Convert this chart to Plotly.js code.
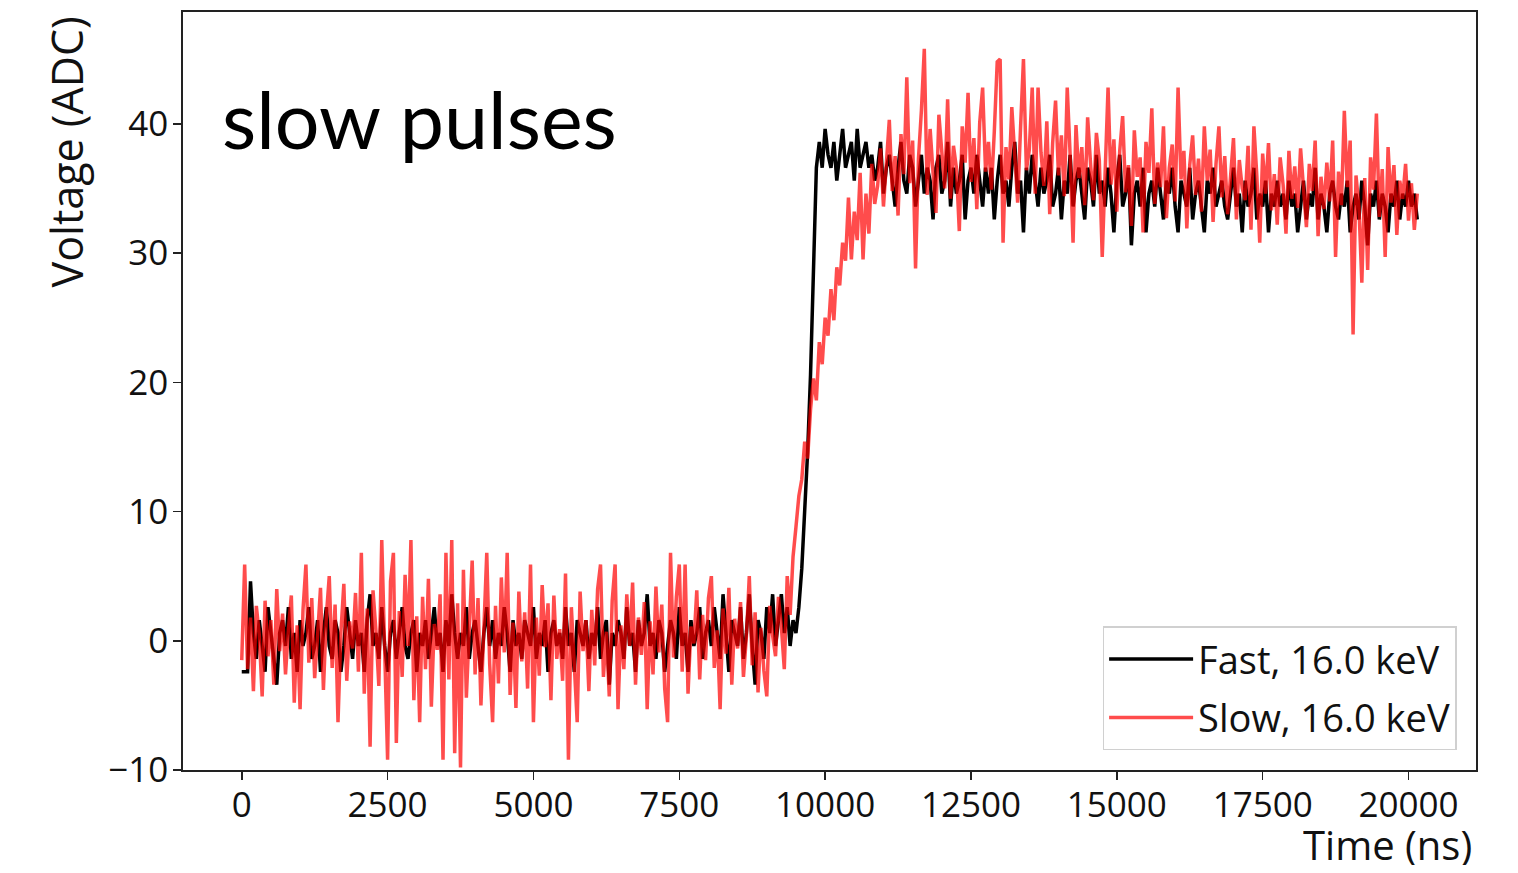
<!DOCTYPE html>
<html>
<head>
<meta charset="utf-8">
<script src="https://cdn.plot.ly/plotly-3.0.1.min.js"></script>
<style>
html,body{margin:0;padding:0;background:#fff;}
#chart{width:1518px;height:873px;}
</style>
</head>
<body>
<div id="chart"></div>
<script>
// Sampling of both traces (ns)
const sampleStart = 0;
const sampleStep = 50;

// Fast pulse, 16.0 keV (ADC), one value per 50 ns sample
const fastVoltage = [
  -2.4,-2.4,-2.4,4.6,0.6,-1.4,1.6,-0.4,-2.4,2.6,0.6,-1.4,-3.4,0.6,1.6,-0.4,2.6,-1.4,0.6,-2.4,
  1.6,-0.4,0.6,2.6,-1.4,-0.4,1.6,-2.4,0.6,2.6,-0.4,-1.4,1.6,0.6,-2.4,-0.4,2.6,0.6,-1.4,1.6,
  -0.4,0.6,-2.4,1.6,3.6,-0.4,0.6,-1.4,2.6,-0.4,-2.4,0.6,1.6,-1.4,0.6,2.6,-0.4,-1.4,0.6,1.6,
  -2.4,0.6,-0.4,1.6,-1.4,0.6,2.6,-0.4,0.6,-2.4,1.6,-0.4,3.6,0.6,-1.4,0.6,-0.4,2.6,-1.4,0.6,
  1.6,-0.4,-2.4,0.6,2.6,-0.4,1.6,-1.4,0.6,-0.4,2.6,0.6,-2.4,1.6,-0.4,0.6,-1.4,1.6,0.6,-0.4,
  2.6,-1.4,0.6,-0.4,1.6,-2.4,0.6,1.6,-0.4,0.6,-1.4,2.6,-0.4,0.6,-2.4,1.6,0.6,-0.4,1.6,-1.4,
  0.6,-0.4,2.6,-1.4,0.6,1.6,-3.4,0.6,-0.4,1.6,0.6,-1.4,2.6,-0.4,0.6,-2.4,1.6,-0.4,0.6,3.6,
  -0.4,0.6,-1.4,1.6,0.6,-2.4,-0.4,1.6,0.6,-1.4,2.6,-0.4,0.6,-2.4,1.6,-0.4,0.6,2.6,-1.4,0.6,
  1.6,-0.4,2.6,0.6,-1.4,3.6,0.6,-2.4,1.6,0.6,-0.4,2.6,-1.4,0.6,3.6,-0.4,-3.4,1.6,0.6,-1.4,
  2.6,0.6,3.6,-0.4,1.6,3.6,0.6,2.6,-0.4,1.6,
  0.6,2.6,5.6,9.6,14.6,20.6,28.6,36.6,38.6,
  36.6,39.6,37.6,36.6,38.6,35.6,37.6,39.6,36.6,37.6,38.6,35.6,39.6,36.6,37.6,38.6,36.6,
  37.6,35.6,36.6,38.6,34.6,36.6,37.6,35.6,33.6,36.6,38.6,35.6,34.6,37.6,36.6,33.6,35.6,37.6,34.6,36.6,
  35.6,32.6,36.6,37.6,34.6,35.6,38.6,33.6,36.6,34.6,35.6,37.6,32.6,35.6,36.6,34.6,37.6,35.6,33.6,36.6,
  34.6,36.6,32.6,35.6,37.6,34.6,35.6,33.6,36.6,38.6,34.6,35.6,31.6,36.6,34.6,37.6,35.6,33.6,36.6,34.6,
  35.6,37.6,33.6,34.6,36.6,32.6,35.6,34.6,37.6,33.6,35.6,36.6,34.6,32.6,36.6,35.6,33.6,37.6,34.6,35.6,
  33.6,36.6,34.6,31.6,35.6,37.6,33.6,34.6,36.6,30.6,34.6,35.6,33.6,36.6,31.6,34.6,35.6,33.6,36.6,34.6,
  32.6,35.6,34.6,36.6,33.6,31.6,35.6,34.6,33.6,36.6,32.6,34.6,35.6,33.6,31.6,35.6,34.6,36.6,33.6,34.6,
  35.6,33.6,32.6,34.6,36.6,33.6,34.6,31.6,35.6,33.6,34.6,36.6,32.6,34.6,33.6,35.6,31.6,34.6,33.6,35.6,
  33.6,34.6,32.6,35.6,33.6,34.6,31.6,33.6,35.6,32.6,34.6,33.6,36.6,32.6,34.6,33.6,31.6,34.6,35.6,33.6,
  32.6,34.6,33.6,35.6,31.6,33.6,34.6,32.6,35.6,33.6,30.6,34.6,33.6,35.6,32.6,34.6,33.6,31.6,34.6,33.6,
  35.6,32.6,34.6,33.6,35.6,33.6,34.6,32.6
];

// Slow pulse, 16.0 keV (ADC), one value per 50 ns sample
const slowVoltage = [
  -1.5,5.9,-2.2,1.8,-3.9,2.7,0.5,-4.3,3.1,-1.2,1.6,-3.4,4.0,-0.8,2.1,-2.6,0.9,3.5,-4.8,1.2,
  -5.3,2.4,5.9,-1.7,3.3,-2.9,0.4,4.1,-3.8,1.9,5.0,-2.1,2.8,-6.3,0.7,4.4,-3.1,1.5,-0.6,3.7,
  -2.4,6.8,-4.1,2.5,-8.2,3.9,0.8,-3.5,7.8,-1.1,-9.2,4.6,6.8,-7.9,2.3,-2.8,5.1,-0.4,7.8,-4.6,
  1.9,-6.3,3.4,-2.2,4.8,-5.1,1.3,-0.7,3.6,-9.2,6.8,-3.0,7.8,-8.7,2.9,-9.8,5.5,-4.4,1.7,6.2,
  -2.6,3.3,-5.0,0.6,6.8,-1.8,-6.3,2.7,-3.3,4.9,-0.9,6.8,-4.2,1.4,-5.2,3.8,-1.6,2.2,-3.7,5.9,
  -6.3,1.8,-2.7,4.3,-0.5,2.9,-4.6,3.5,-1.4,0.9,-3.1,5.2,-9.2,2.6,-2.0,-6.3,3.8,-0.8,1.6,-3.9,
  2.4,-1.9,4.0,5.9,-2.8,0.7,-4.3,3.1,5.9,-5.3,1.2,-2.2,3.6,-0.4,4.5,-3.4,1.8,-1.1,3.0,-5.3,
  1.5,-2.6,4.2,-0.9,2.8,-3.7,-6.3,6.8,-1.3,3.4,5.9,-2.4,5.9,-4.1,1.1,-0.2,3.9,-3.0,2.0,-1.5,
  3.3,5.0,-2.1,0.8,-5.3,2.5,-1.0,4.1,-3.4,1.7,-0.6,3.0,-2.8,0.3,5.0,-1.9,2.2,-4.0,1.0,-2.3,
  -4.3,2.7,0.4,-1.2,3.4,1.1,-2.2,5.0,2.0,
  6.5,8.8,11.2,12.5,15.4,14.1,17.9,20.3,18.6,23.1,21.4,25.0,23.6,27.2,24.8,28.9,27.5,30.8,29.4,34.3,
  29.5,33.2,31.0,36.2,29.5,34.6,31.5,36.9,33.8,
  35.2,38.1,33.6,36.9,40.3,34.8,37.5,32.9,39.2,36.1,43.6,35.4,38.7,28.8,37.3,41.0,45.8,34.5,39.6,36.2,
  33.1,40.7,37.4,35.0,41.9,34.2,38.3,36.6,31.7,39.8,37.0,42.4,35.5,38.9,33.4,40.1,42.8,36.3,38.6,34.9,
  39.4,44.8,45.0,30.8,38.2,35.7,41.3,37.1,33.9,39.7,45.0,36.4,38.0,42.8,34.6,42.8,37.8,35.2,40.2,33.0,
  38.5,41.8,36.0,39.1,34.4,42.8,37.6,30.8,39.9,35.8,38.2,33.7,40.5,36.9,34.1,39.3,37.2,29.7,36.5,42.8,
  35.3,38.8,33.2,37.9,40.6,34.7,36.8,32.1,39.5,35.9,37.4,31.6,38.6,36.2,41.2,33.8,37.0,35.1,39.8,32.7,
  36.6,38.4,34.0,42.8,35.7,37.9,31.9,36.8,39.1,34.5,37.3,33.2,39.8,35.6,38.0,32.4,36.9,39.8,34.3,37.5,
  33.0,36.4,38.9,32.6,37.2,35.0,34.1,38.3,31.8,39.8,36.0,30.8,37.7,34.6,38.5,33.3,36.1,32.2,37.4,35.3,
  31.5,37.9,34.2,36.7,33.5,38.1,35.4,32.0,36.9,34.8,38.7,31.3,35.9,33.4,37.0,34.0,38.7,29.7,36.3,33.7,
  41.0,35.1,38.7,23.7,36.0,33.6,27.7,35.8,28.7,37.4,34.9,40.8,32.8,36.5,29.7,38.2,33.9,36.8,31.4,35.6,
  34.2,36.9,32.5,35.4,31.8,34.6
];

const seriesNames = ["Fast, 16.0 keV", "Slow, 16.0 keV"];
const xTickValues = [0, 2500, 5000, 7500, 10000, 12500, 15000, 17500, 20000];
const yTickValues = [-10, 0, 10, 20, 30, 40];
const xTitle = "Time (ns)";
const yTitle = "Voltage (ADC)";
const panelLabel = "slow pulses";

const tickFont = {family: "Open Sans, sans-serif", size: 35, color: "#111"};

const traces = [
  {
    type: "scatter", mode: "lines", name: seriesNames[0],
    x0: sampleStart, dx: sampleStep, y: fastVoltage,
    line: {color: "#000000", width: 3.5},
    legendgroup: "a"
  },
  {
    type: "scatter", mode: "lines", name: seriesNames[1],
    x0: sampleStart, dx: sampleStep, y: slowVoltage,
    line: {color: "#ff0000", width: 3.5},
    opacity: 0.7,
    legendgroup: "b"
  }
];

const layout = {
  width: 1518, height: 873,
  margin: {l: 183, r: 42, t: 12, b: 103, pad: 0},
  paper_bgcolor: "#ffffff", plot_bgcolor: "#ffffff",
  showlegend: true,
  xaxis: {
    range: [-1007, 21157],
    tickvals: xTickValues, ticktext: xTickValues.map(String),
    ticks: "outside", ticklen: 8, tickwidth: 1.5, tickcolor: "#222",
    ticklabelstandoff: -5,
    showline: true, mirror: true, linecolor: "#222", linewidth: 1.8,
    showgrid: false, zeroline: false,
    tickfont: tickFont
  },
  yaxis: {
    range: [-10, 48.65],
    tickvals: yTickValues,
    ticks: "outside", ticklen: 8, tickwidth: 1.5, tickcolor: "#222",
    ticklabelstandoff: -2,
    showline: true, mirror: true, linecolor: "#222", linewidth: 1.8,
    showgrid: false, zeroline: false,
    tickfont: tickFont
  },
  legend: {
    x: 0.985, y: 0.026, xanchor: "right", yanchor: "bottom",
    bgcolor: "#ffffff", bordercolor: "#d0d0d0", borderwidth: 1.5,
    font: {family: "Open Sans, sans-serif", size: 38, color: "#111"},
    traceorder: "grouped", tracegroupgap: 6,
    itemwidth: 84
  },
  annotations: [
    {
      text: panelLabel, xref: "paper", yref: "paper",
      x: 0.029, y: 0.86, xanchor: "left", yanchor: "middle",
      showarrow: false,
      font: {family: "Lato, sans-serif", size: 79, color: "#000"}
    },
    {
      text: yTitle, xref: "paper", yref: "paper",
      x: -0.09, y: 0.997, xanchor: "center", yanchor: "top",
      textangle: -90, showarrow: false,
      font: {family: "Open Sans, sans-serif", size: 43, color: "#111"}
    },
    {
      text: xTitle, xref: "paper", yref: "paper",
      x: 0.9985, y: -0.098, xanchor: "right", yanchor: "middle",
      height: 42, valign: "middle",
      showarrow: false,
      font: {family: "Open Sans, sans-serif", size: 40, color: "#111"}
    }
  ]
};

Plotly.newPlot("chart", traces, layout, {displayModeBar: false, staticPlot: true});
</script>
</body>
</html>
